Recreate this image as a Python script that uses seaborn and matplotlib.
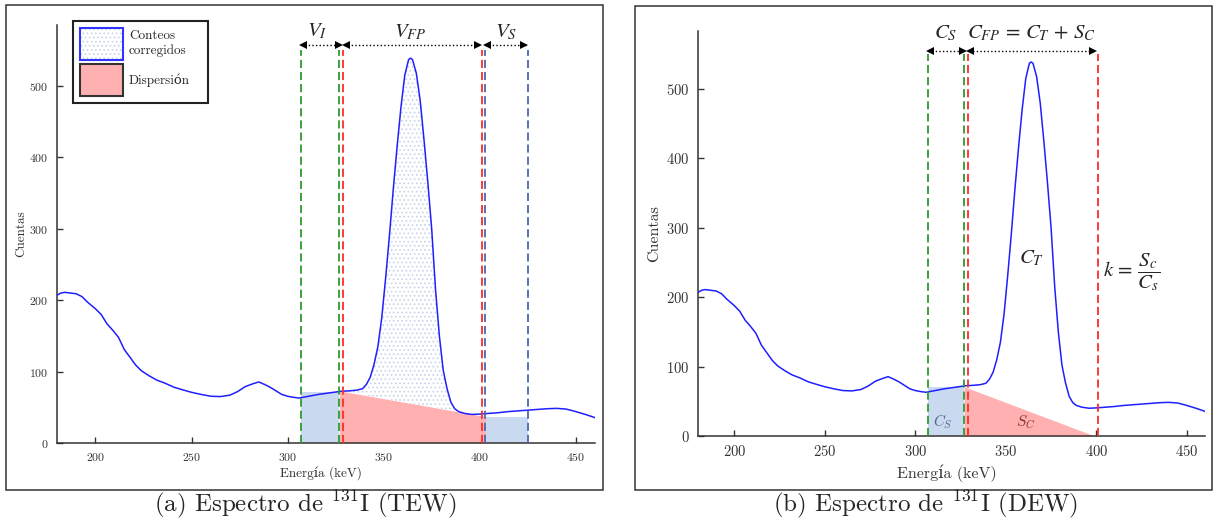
import numpy as np
import pandas as pd
import seaborn as sns
import matplotlib
matplotlib.use("Agg")
import matplotlib.pyplot as plt
from matplotlib.patches import Patch, Rectangle
from matplotlib.legend_handler import HandlerTuple

# ---------------- data ----------------
energy = [180, 182, 184, 187, 190, 193, 196, 200, 203, 206, 209, 212, 215, 218,
          221, 224, 228, 232, 236, 241, 246, 250, 255, 260, 265, 270, 274, 278,
          282, 285, 288, 291, 294, 297, 300, 303, 306, 309, 312, 316, 320, 324,
          328, 332, 336, 339, 341, 343, 345, 347, 349, 351, 353, 355, 357, 359,
          361, 363, 364, 365, 367, 369, 371, 373, 375, 377, 379, 381, 383, 385,
          387, 389, 392, 396, 400, 405, 410, 415, 420, 425, 430, 435, 440, 445,
          450, 455, 460]
counts = [207, 210, 211, 210, 209, 205, 197, 188, 180, 167, 158, 148, 131, 120,
          109, 101, 94, 88, 84, 78, 74, 71, 68, 65.5, 65, 67, 72, 79,
          83, 85.5, 82, 78, 73, 68, 65.5, 64, 63, 64.5, 66, 68, 69.5, 71,
          72.5, 73, 74, 76, 82, 92, 110, 135, 175, 230, 290, 355, 415, 470,
          515, 537, 539, 537, 518, 480, 425, 365, 300, 215, 150, 102, 76, 57,
          48, 44, 41.5, 40, 40.5, 41.5, 42.5, 44, 45, 46, 47, 48, 48.5, 47.5,
          44, 40, 35.5]

# TEW windows (keV)
tew_lower = [307, 327]
tew_peak = [329, 401]
tew_upper = [403, 425]
tew_lower_height = 72
tew_upper_height = 37
scatter_x = [327, 403]
scatter_y = [73, 37]

# DEW windows (keV)
dew_scatter = [307, 327]
dew_peak = [329, 401]
dew_scatter_height = 71
dew_tri_x = [327, 399]
dew_tri_y = [71, 0]

xticks = [200, 250, 300, 350, 400, 450]
yticks = [0, 100, 200, 300, 400, 500]

df = pd.DataFrame({"Energía (keV)": energy, "Cuentas": counts})
E = np.array(energy, dtype=float)
C = np.array(counts, dtype=float)

# ---------------- style ----------------
sns.set_style("ticks")
plt.rcParams["font.family"] = ["cmr10", "DejaVu Serif"]
plt.rcParams["mathtext.fontset"] = "cm"
plt.rcParams["axes.formatter.use_mathtext"] = True
plt.rcParams["hatch.linewidth"] = 0.7

CURVE = "#1f1fff"
GREEN = "#2f9a2f"
RED = "#ff2b2b"
SLATE = "#4a68b0"
LBLUE = "#c9daf0"
PINK = "#ffb0b0"
HATCH = "#c6d3ea"
DARK = "#333333"

fig = plt.figure(figsize=(12.14, 5.21), dpi=100)
W, H = 1214.0, 521.0
axA = fig.add_axes([57 / W, 1 - 443 / H, 538 / W, 418 / H])
axB = fig.add_axes([698 / W, 1 - 436 / H, 507 / W, 405 / H])


def base_axes(ax, ylim_top, tick_fs, label_fs, ylab_x, xlab_y):
    ax.set_xlim(180, 460)
    ax.set_ylim(0, ylim_top)
    ax.set_xticks(xticks)
    ax.set_yticks(yticks)
    for s in ["top", "right"]:
        ax.spines[s].set_visible(False)
    for s in ["left", "bottom"]:
        ax.spines[s].set_color(DARK)
        ax.spines[s].set_linewidth(1.1)
    ax.tick_params(direction="in", length=4, width=1, colors=DARK,
                   labelsize=tick_fs, pad=6)
    ax.set_xlabel("Energía (keV)", fontsize=label_fs, color=DARK)
    ax.set_ylabel("Cuentas", fontsize=label_fs, color=DARK)
    ax.yaxis.set_label_coords(ylab_x, 0.5)
    ax.xaxis.set_label_coords(0.49, xlab_y)


def vline(ax, x, color):
    ax.plot([x, x], [0, 550], color=color, lw=1.3, dashes=(4.5, 2.2),
            clip_on=False, zorder=4)


def dim_arrow(ax, x0, x1, y, ms=6):
    ax.plot([x0, x1], [y, y], color="black", lw=1, ls=(0, (1, 1.6)),
            clip_on=False, zorder=5)
    ax.plot([x0 + 0.9], [y], marker="<", color="black", ms=ms, mew=0,
            clip_on=False, zorder=6)
    ax.plot([x1 - 0.9], [y], marker=">", color="black", ms=ms, mew=0,
            clip_on=False, zorder=6)


def draw_curve(ax):
    sns.lineplot(data=df, x="Energía (keV)", y="Cuentas", ax=ax, color=CURVE,
                 lw=1.1, zorder=3)


# ================= Panel (a) TEW =================
axA.fill_between(tew_lower, [tew_lower_height] * 2, 0, color=LBLUE, lw=0, zorder=1)
axA.fill_between(tew_upper, [tew_upper_height] * 2, 0, color=LBLUE, lw=0, zorder=1)
axA.fill_between(scatter_x, scatter_y, 0, color=PINK, lw=0, zorder=1)
sel = (E >= scatter_x[0]) & (E <= scatter_x[1])
ex = np.concatenate([[scatter_x[0]], E[sel], [scatter_x[1]]])
cy = np.interp(ex, E, C)
by = np.interp(ex, scatter_x, scatter_y)
axA.fill_between(ex, by, np.maximum(cy, by), facecolor="none", edgecolor=HATCH,
                 hatch="....", lw=0, zorder=1)
draw_curve(axA)
base_axes(axA, 585.4, 8.5, 9.5, -0.056, -0.055)

for x in tew_lower:
    vline(axA, x, GREEN)
for x in tew_peak:
    vline(axA, x, RED)
for x in tew_upper:
    vline(axA, x, SLATE)

dim_arrow(axA, 307, 327.5, 558)
dim_arrow(axA, 329.5, 400, 558)
dim_arrow(axA, 403, 424, 558)
lab_kw = dict(fontsize=15, ha="center", va="center", math_fontfamily="stix",
              clip_on=False)
axA.text(315.5, 577, r"$V_I$", **lab_kw)
axA.text(364, 575, r"$V_{FP}$", **lab_kw)
axA.text(413.5, 575, r"$V_S$", **lab_kw)

h1_fill = Patch(facecolor="white", edgecolor=HATCH, hatch="....", lw=0)
h1_edge = Patch(facecolor="none", edgecolor="#3333ff", lw=1.5)
h2 = Patch(facecolor=PINK, edgecolor=DARK, lw=1.5)
leg = axA.legend([(h1_fill, h1_edge), h2], ["Conteos\ncorregidos", "Dispersión"],
                 handler_map={tuple: HandlerTuple(ndivide=1, pad=0)},
                 loc="upper left",
                 bbox_to_anchor=(16 / 538, (443 - 110) / 418, 135 / 538, 89 / 418),
                 mode="expand", fontsize=9.5,
                 frameon=True, fancybox=False, framealpha=1, edgecolor="#222222",
                 handlelength=3.25, handleheight=3.3, borderpad=0.55,
                 labelspacing=0.35, handletextpad=0.45, borderaxespad=0)
leg.get_frame().set_linewidth(1.5)

# ================= Panel (b) DEW =================
axB.fill_between(dew_scatter, [dew_scatter_height] * 2, 0, color=LBLUE, lw=0, zorder=1)
axB.fill_between(dew_tri_x, dew_tri_y, 0, color=PINK, lw=0, zorder=1)
draw_curve(axB)
base_axes(axB, 583.6, 10.5, 11.5, -0.073, -0.07)

for x in dew_scatter:
    vline(axB, x, GREEN)
for x in dew_peak:
    vline(axB, x, RED)

dim_arrow(axB, 307, 327, 555)
dim_arrow(axB, 329.5, 399, 555)
axB.text(317, 580, r"$C_S$", **lab_kw)
axB.text(364, 580, r"$C_{FP}\,=\,C_T\,+\,S_C$", **lab_kw)
axB.text(364, 256, r"$C_T$", **lab_kw)
axB.text(403.5, 236, r"$k\,=\,\dfrac{S_c}{C_s}$", fontsize=15, ha="left",
         va="center", math_fontfamily="stix")
axB.text(315.5, 20, r"$C_S$", fontsize=11, color="#56688f", ha="center",
         va="center")
axB.text(361, 20, r"$S_C$", fontsize=11, color="#8a3030", ha="center",
         va="center")

# ---------------- outer boxes and captions ----------------
fig.add_artist(Rectangle((6 / W, 1 - 490 / H), 597 / W, 485 / H, fill=False,
                         edgecolor=DARK, lw=1.1, transform=fig.transFigure))
fig.add_artist(Rectangle((635 / W, 1 - 490 / H), 577 / W, 484 / H, fill=False,
                         edgecolor=DARK, lw=1.1, transform=fig.transFigure))
fig.text(305 / W, 1 - 504 / H, r"(a) Espectro de $^{131}$I (TEW)", fontsize=18,
         ha="center", va="center")
fig.text(926 / W, 1 - 504 / H, r"(b) Espectro de $^{131}$I (DEW)", fontsize=18,
         ha="center", va="center")

fig.savefig("out.png", dpi=100)
